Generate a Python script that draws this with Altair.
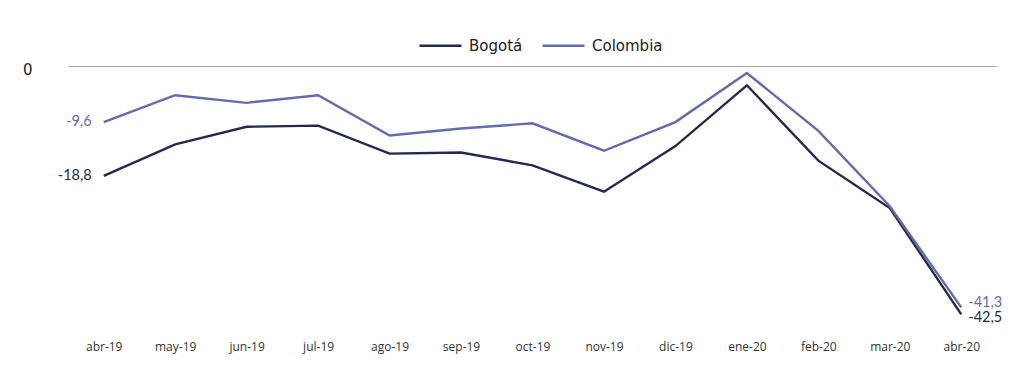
import altair as alt
import pandas as pd

months = ["abr-19", "may-19", "jun-19", "jul-19", "ago-19", "sep-19", "oct-19",
          "nov-19", "dic-19", "ene-20", "feb-20", "mar-20", "abr-20"]
bogota = [-18.8, -13.4, -10.4, -10.2, -15.0, -14.8, -17.0, -21.5, -13.7, -3.3, -16.2, -24.3, -42.5]
colombia = [-9.6, -5.0, -6.3, -5.0, -11.9, -10.7, -9.8, -14.5, -9.6, -1.2, -11.1, -24.0, -41.3]
series = ["Bogotá", "Colombia"]
colors = ["#232a4e", "#636bad"]

rows = []
for s, vals in zip(series, [bogota, colombia]):
    for i, (m, v) in enumerate(zip(months, vals)):
        rows.append({"mes": m, "serie": s, "valor": v, "idx": i,
                     "etiqueta": ("%.1f" % v).replace(".", ",")})
df = pd.DataFrame(rows)

x_enc = alt.X("mes:N", sort=months, scale=alt.Scale(padding=0.5),
              axis=alt.Axis(title=None, domain=False, ticks=False, labelAngle=0,
                            labelPadding=12, labelFontSize=12, labelColor="#333333",
                            labelFont="Open Sans"))
y_scale = alt.Scale(domain=[-45, 0], nice=False, zero=False)
color_scale = alt.Scale(domain=series, range=colors)
color_enc = alt.Color("serie:N", scale=color_scale,
                      legend=alt.Legend(title=None, orient="none", direction="horizontal",
                                        legendX=350, legendY=-43, symbolType="stroke",
                                        symbolSize=1764, symbolStrokeWidth=2.5,
                                        labelFontSize=15, labelFont="DejaVu Sans",
                                        labelColor="#222222", labelOffset=6,
                                        columnPadding=14))

base = alt.Chart(df)

lines = base.mark_line(strokeWidth=2.4).encode(
    x=x_enc,
    y=alt.Y("valor:Q", scale=y_scale,
            axis=alt.Axis(title=None, values=[0], domain=False, ticks=False, grid=True,
                          gridColor="#aaaaaa", gridWidth=1.2, labelPadding=36,
                          labelFontSize=15, labelFont="DejaVu Sans", labelColor="#222222",
                          labelOffset=3)),
    color=color_enc,
)

def label_layer(cond, align, dx, dy):
    return base.transform_filter(cond).mark_text(
        align=align, dx=dx, dy=dy, fontSize=14.5, font="Lato").encode(
        x=alt.X("mes:N", sort=months), y=alt.Y("valor:Q", scale=y_scale),
        text="etiqueta:N",
        color=alt.Color("serie:N", scale=color_scale, legend=None))

start = label_layer("datum.idx == 0", "right", -12, 0)
end_b = label_layer("datum.idx == 12 && datum.serie == 'Bogotá'", "left", 7, 4)
end_c = label_layer("datum.idx == 12 && datum.serie == 'Colombia'", "left", 7, -4)

chart = alt.layer(lines, start, end_b, end_c).properties(
    width=929, height=263,
    autosize=alt.AutoSizeParams(type="none"),
    padding={"left": 60, "top": 58, "right": 19, "bottom": 45},
).configure(background="white").configure_view(stroke=None, strokeWidth=0)

chart.save("out.html", embed_options={"renderer": "svg", "actions": False})
